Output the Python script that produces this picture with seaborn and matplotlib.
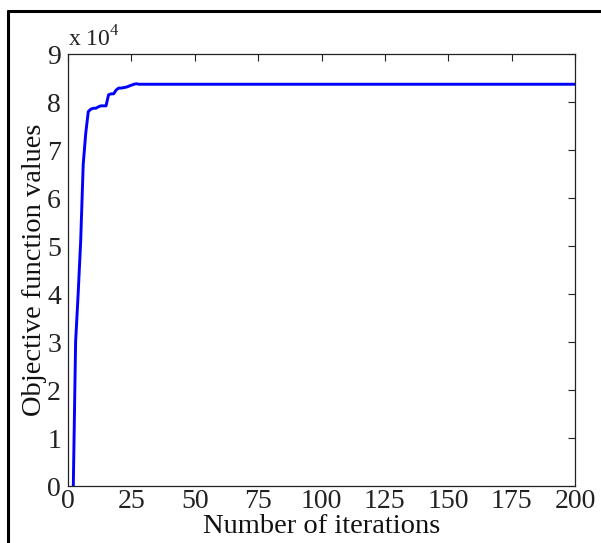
import numpy as np
import pandas as pd
import seaborn as sns
import matplotlib.pyplot as plt
from matplotlib.lines import Line2D

# objective values (x 10^4), one per iteration
early_values = [-1.5, -0.3, 3.0, 4.0, 5.1, 6.7, 7.35, 7.8, 7.85, 7.87,
                7.87, 7.9, 7.92, 7.92, 7.92, 8.15, 8.17, 8.17, 8.25, 8.29,
                8.29, 8.30, 8.31, 8.33, 8.35, 8.37, 8.38, 8.37, 8.37, 8.37]
plateau_value = 8.37
n_iter = 200

values = early_values + [plateau_value] * (n_iter - len(early_values))
iterations = list(range(1, n_iter + 1))
df = pd.DataFrame({'iteration': iterations, 'objective': values})

x_ticks = [0, 25, 50, 75, 100, 125, 150, 175, 200]
y_ticks = list(range(0, 10))

sns.set_theme(style='white')
plt.rcParams['font.family'] = ['Liberation Serif', 'DejaVu Serif']
plt.rcParams['mathtext.fontset'] = 'custom'
plt.rcParams['mathtext.rm'] = 'Liberation Serif'

fig = plt.figure(figsize=(6.01, 5.43), dpi=100)
ax = fig.add_axes([68 / 601, 1 - 486 / 543, (575 - 68) / 601, (486 - 54) / 543])

sns.lineplot(data=df, x='iteration', y='objective', ax=ax, color='#0000ff', linewidth=2.1)

ax.set_xlim(0, 200)
ax.set_ylim(0, 9)
ax.set_xticks(x_ticks)
ax.set_yticks(y_ticks)
ax.tick_params(direction='in', length=5, width=0.8, top=True, right=True,
               labelsize=20, colors='#222222')
ax.tick_params(axis='x', pad=2)
ax.tick_params(axis='y', pad=5)
for s in ax.spines.values():
    s.set_color('#222222')
    s.set_linewidth(0.9)

ax.set_xlabel('Number of iterations', fontsize=20.5, labelpad=0.5, color='#111111')
ax.set_ylabel('Objective function values', fontsize=20.5, labelpad=0, color='#111111')
ax.text(0.0, 1.005, r'x 10$^4$', transform=ax.transAxes, fontsize=17,
        ha='left', va='bottom', color='#222222')

# outer frame (top and left edges, rest cut off)
fig.add_artist(Line2D([8 / 601, 1.0], [1 - 11 / 543, 1 - 11 / 543],
                      transform=fig.transFigure, color='black', linewidth=2.2))
fig.add_artist(Line2D([8 / 601, 8 / 601], [0.0, 1 - 11 / 543],
                      transform=fig.transFigure, color='black', linewidth=2.2))

fig.savefig('out.png', dpi=100)
